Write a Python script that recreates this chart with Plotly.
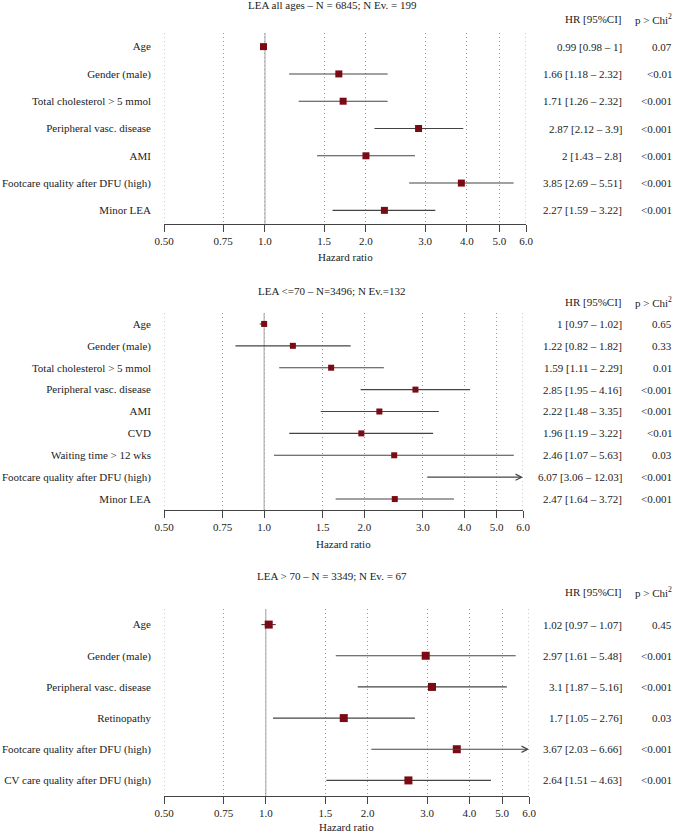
#!/usr/bin/env python3
# Forest plots of hazard ratios for LEA (all ages, <=70, >70)

import math
import plotly.graph_objects as go

# ---- data ----------------------------------------------------------------
title_all = "LEA all ages – N = 6845; N Ev. = 199"
labels_all = ["Age", "Gender (male)", "Total cholesterol > 5 mmol",
              "Peripheral vasc. disease", "AMI",
              "Footcare quality after DFU (high)", "Minor LEA"]
hr_all = [0.99, 1.66, 1.71, 2.87, 2.0, 3.85, 2.27]
lo_all = [0.98, 1.18, 1.26, 2.12, 1.43, 2.69, 1.59]
hi_all = [1.0, 2.32, 2.32, 3.9, 2.8, 5.51, 3.22]
p_all = ["0.07", "<0.01", "<0.001", "<0.001", "<0.001", "<0.001", "<0.001"]

title_le70 = "LEA <=70 – N=3496; N Ev.=132"
labels_le70 = ["Age", "Gender (male)", "Total cholesterol > 5 mmol",
               "Peripheral vasc. disease", "AMI", "CVD",
               "Waiting time > 12 wks", "Footcare quality after DFU (high)",
               "Minor LEA"]
hr_le70 = [1.0, 1.22, 1.59, 2.85, 2.22, 1.96, 2.46, 6.07, 2.47]
lo_le70 = [0.97, 0.82, 1.11, 1.95, 1.48, 1.19, 1.07, 3.06, 1.64]
hi_le70 = [1.02, 1.82, 2.29, 4.16, 3.35, 3.22, 5.63, 12.03, 3.72]
p_le70 = ["0.65", "0.33", "0.01", "<0.001", "<0.001", "<0.01", "0.03",
          "<0.001", "<0.001"]

title_gt70 = "LEA > 70 – N = 3349; N Ev. = 67"
labels_gt70 = ["Age", "Gender (male)", "Peripheral vasc. disease",
               "Retinopathy", "Footcare quality after DFU (high)",
               "CV care quality after DFU (high)"]
hr_gt70 = [1.02, 2.97, 3.1, 1.7, 3.67, 2.64]
lo_gt70 = [0.97, 1.61, 1.87, 1.05, 2.03, 1.51]
hi_gt70 = [1.07, 5.48, 5.16, 2.76, 6.66, 4.63]
p_gt70 = ["0.45", "<0.001", "<0.001", "0.03", "<0.001", "<0.001"]

tick_vals = [0.5, 0.75, 1.0, 1.5, 2.0, 3.0, 4.0, 5.0, 6.0]
tick_text = ["0.50", "0.75", "1.0", "1.5", "2.0", "3.0", "4.0", "5.0", "6.0"]
X_MIN, X_MAX = 0.5, 6.0

# ---- look ----------------------------------------------------------------
W, H = 674, 833
FONT = "Liberation Serif, Times New Roman, serif"
TXT = "#222222"
LINE = "#444444"
MARK = "#7a0a14"
GRID = "#999999"
DOTS = "1px,3px"

# pixel layout of each panel: top, bottom, left, right, title y, header y,
# gap to "Hazard ratio", marker size
geom = [
    dict(top=33, bottom=224, left=164, right=526, title=5, header=19.5, xlab=33, msize=7),
    dict(top=313, bottom=510, left=164, right=523, title=291, header=302, xlab=34, msize=6),
    dict(top=609, bottom=796, left=164, right=529, title=576, header=592, xlab=31, msize=8),
]


def py(p):
    return 1 - p / H


def px(p):
    return p / W


def fmt(v):
    return f"{v:g}"


panels = [
    (title_all, labels_all, hr_all, lo_all, hi_all, p_all),
    (title_le70, labels_le70, hr_le70, lo_le70, hi_le70, p_le70),
    (title_gt70, labels_gt70, hr_gt70, lo_gt70, hi_gt70, p_gt70),
]

fig = go.Figure()
annotations = []

for k, ((title, labels, hr, lo, hi, pv), g) in enumerate(zip(panels, geom)):
    ax_id = "" if k == 0 else str(k + 1)
    xref, yref = "x" + ax_id, "y" + ax_id
    n = len(labels)
    rows = list(range(n))

    # plotly drops the grid lines at the ends of the range, so draw those two
    for edge in (tick_vals[0], tick_vals[-1]):
        fig.add_trace(go.Scatter(
            x=[edge, edge], y=[-0.5, n - 0.5], mode="lines",
            line=dict(color=GRID, width=1, dash=DOTS),
            xaxis=xref, yaxis=yref, hoverinfo="skip", showlegend=False))

    # reference line at HR = 1
    fig.add_trace(go.Scatter(
        x=[1, 1], y=[-0.5, n - 0.5], mode="lines",
        line=dict(color="#b0b0b0", width=1.2),
        xaxis=xref, yaxis=yref, hoverinfo="skip", showlegend=False))

    # confidence intervals (clipped ones get an arrow)
    cx, cy = [], []
    for i in rows:
        if hi[i] > X_MAX:
            annotations.append(dict(
                x=math.log10(X_MAX), y=i, ax=math.log10(lo[i]), ay=i,
                xref=xref, yref=yref, axref=xref, ayref=yref,
                text="", showarrow=True, arrowhead=5, arrowsize=1.1,
                arrowwidth=1.1, arrowcolor=LINE, standoff=0))
        else:
            cx += [lo[i], hi[i], None]
            cy += [i, i, None]
    fig.add_trace(go.Scatter(
        x=cx, y=cy, mode="lines", line=dict(color=LINE, width=1.1),
        xaxis=xref, yaxis=yref, hoverinfo="skip", showlegend=False))

    # point estimates
    mx = [hr[i] for i in rows if hr[i] <= X_MAX]
    my = [i for i in rows if hr[i] <= X_MAX]
    fig.add_trace(go.Scatter(
        x=mx, y=my, mode="markers",
        marker=dict(symbol="square", size=g["msize"], color=MARK,
                    line=dict(width=0)),
        xaxis=xref, yaxis=yref, showlegend=False))

    fig.update_layout({
        "xaxis" + ax_id: dict(
            type="log", range=[math.log10(X_MIN), math.log10(X_MAX)],
            domain=[px(g["left"]), px(g["right"])], anchor=yref,
            tickvals=tick_vals, ticktext=tick_text,
            showgrid=True, gridcolor=GRID, griddash=DOTS, gridwidth=1,
            showline=True, linecolor=LINE, linewidth=1.2,
            ticks="outside", ticklen=7, tickwidth=1.2, tickcolor=LINE,
            zeroline=False, automargin=False,
            tickfont=dict(family=FONT, size=11, color=TXT)),
        "yaxis" + ax_id: dict(
            range=[n - 0.5, -0.5], domain=[py(g["bottom"]), py(g["top"])],
            anchor=xref, tickvals=rows, ticktext=labels,
            showgrid=False, zeroline=False, showline=False, ticks="",
            ticklabelstandoff=12, automargin=False,
            tickfont=dict(family=FONT, size=11, color=TXT)),
    })

    # panel title, x-axis title and column headers
    annotations.append(dict(
        x=px(332), y=py(g["title"]), xref="paper", yref="paper",
        text=title, showarrow=False, xanchor="center", yanchor="middle"))
    annotations.append(dict(
        x=px((g["left"] + g["right"]) / 2), y=py(g["bottom"] + g["xlab"]),
        xref="paper", yref="paper", text="Hazard ratio", showarrow=False,
        xanchor="center", yanchor="middle"))
    annotations.append(dict(
        x=px(624), y=py(g["header"]), xref="paper", yref="paper",
        text="HR [95%CI]", showarrow=False, xanchor="right", yanchor="middle"))
    annotations.append(dict(
        x=px(674), y=py(g["header"]), xref="paper", yref="paper",
        text="p > Chi<sup>2</sup>", showarrow=False, xanchor="right",
        yanchor="middle"))

    # HR [CI] and p-value columns
    for i in rows:
        annotations.append(dict(
            x=px(624), y=i, xref="paper", yref=yref,
            text=f"{fmt(hr[i])} [{fmt(lo[i])} – {fmt(hi[i])}]",
            showarrow=False, xanchor="right", yanchor="middle"))
        annotations.append(dict(
            x=px(674), y=i, xref="paper", yref=yref, text=pv[i],
            showarrow=False, xanchor="right", yanchor="middle"))

fig.update_layout(
    width=W, height=H, autosize=False,
    margin=dict(l=0, r=0, t=0, b=0),
    paper_bgcolor="white", plot_bgcolor="white",
    font=dict(family=FONT, size=11, color=TXT),
    annotations=annotations,
    showlegend=False,
)

# the default page has an 8px body margin that would push the figure off-window
fig.write_html("out.html",
               config={"displayModeBar": False},
               post_script="document.body.style.margin='0';")
